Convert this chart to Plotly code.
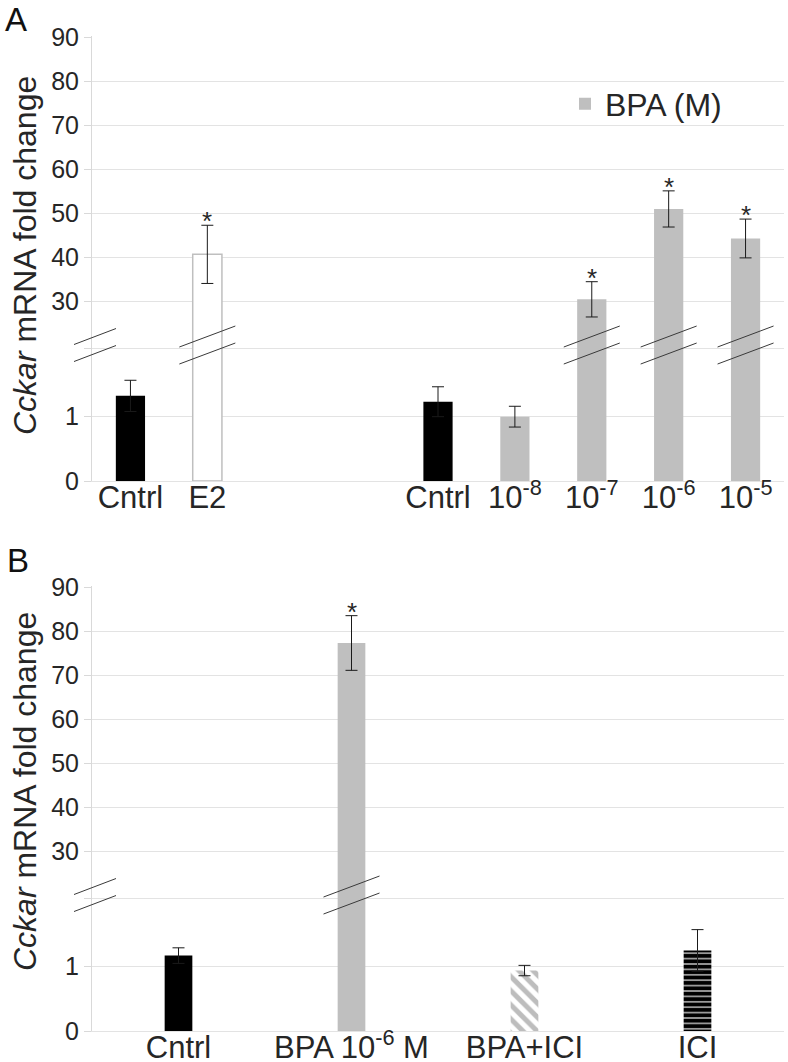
import plotly.graph_objects as go

# ---------------- data ----------------
A_categories = ["Cntrl", "E2", "Cntrl", "10<sup>-8</sup>", "10<sup>-7</sup>", "10<sup>-6</sup>", "10<sup>-5</sup>"]
A_values = [1.31, 40.7, 1.22, 0.99, 30.5, 51.0, 44.3]
A_errors = [0.24, 6.6, 0.23, 0.16, 4.0, 4.1, 4.4]
A_signif = [False, True, False, False, True, True, True]

B_categories = ["Cntrl", "BPA 10<sup>-6</sup> M", "BPA+ICI", "ICI"]
B_values = [1.16, 77.3, 0.93, 1.24]
B_errors = [0.12, 6.2, 0.08, 0.32]
B_signif = [False, True, False, False]

y_tick_values = [0, 1, None, 30, 40, 50, 60, 70, 80, 90]
y_tick_labels = ["0", "1", " ", "30", "40", "50", "60", "70", "80", "90"]

# ------------- broken-axis scale -------------
LOW_SLOPE = 65.0      # display units per fold-change unit below the break
UP_BASE = 179.5       # display position of 30
UP_SLOPE = 4.41       # display units per fold-change unit above the break
BREAK_D = 133.0       # display position of the break gridline
SLASH_D = 136.0       # display position of the break marks


def f(v):
    return LOW_SLOPE * v if v < 10 else UP_BASE + (v - 30) * UP_SLOPE


def tick_pos(v):
    return BREAK_D if v is None else f(v)


W, H = 788, 1062
FONT = "Liberation Sans, Arial, sans-serif"
TXT = "#262626"
GRID = "#e3e3e3"
GRAY = "#bfbfbf"

# layout positions (slots)
A_pos = [0, 1] + [4 + i for i in range(5)]
B_pos = list(range(len(B_categories)))

fig = go.Figure()


def add_bars(xs, vals, errs, idx, xaxis, yaxis, width, marker, name=None, showlegend=False):
    x = [xs[i] for i in idx]
    y = [f(vals[i]) for i in idx]
    up = [f(vals[i] + errs[i]) - f(vals[i]) for i in idx]
    dn = [f(vals[i]) - f(vals[i] - errs[i]) for i in idx]
    fig.add_trace(go.Bar(
        x=x, y=y, width=width, marker=marker, name=name, showlegend=showlegend,
        xaxis=xaxis, yaxis=yaxis, hoverinfo="skip",
        error_y=dict(type="data", array=up, arrayminus=dn, symmetric=False,
                     color="#1a1a1a", thickness=1, width=6),
    ))


# Panel A
add_bars(A_pos, A_values, A_errors, [0, 2], "x", "y", 0.38, dict(color="black", line=dict(width=0)))
add_bars(A_pos, A_values, A_errors, [1], "x", "y", 0.38, dict(color="white", line=dict(color=GRAY, width=1.5)))
add_bars(A_pos, A_values, A_errors, [3, 4, 5, 6], "x", "y", 0.38, dict(color=GRAY, line=dict(width=0)),
         name="BPA (M)", showlegend=True)

# Panel B
add_bars(B_pos, B_values, B_errors, [0], "x2", "y2", 0.16, dict(color="black", line=dict(width=0)))
add_bars(B_pos, B_values, B_errors, [1], "x2", "y2", 0.16, dict(color=GRAY, line=dict(width=0)))
add_bars(B_pos, B_values, B_errors, [2], "x2", "y2", 0.16,
         dict(color="white", line=dict(width=0),
              pattern=dict(shape="\\", fgcolor="#bdbdbd", bgcolor="white", fgopacity=1,
                           size=10, solidity=0.5)))
add_bars(B_pos, B_values, B_errors, [3], "x2", "y2", 0.16,
         dict(color="white", line=dict(width=0),
              pattern=dict(shape="-", fgcolor="black", bgcolor="white", fgopacity=1,
                           size=5.4, solidity=0.8)))

# significance stars
annotations = []
for xs, vals, errs, sig, xr, yr in [(A_pos, A_values, A_errors, A_signif, "x", "y"),
                                    (B_pos, B_values, B_errors, B_signif, "x2", "y2")]:
    for i, s in enumerate(sig):
        if s:
            annotations.append(dict(x=xs[i], y=f(vals[i] + errs[i]), xref=xr, yref=yr, text="*",
                                    showarrow=False, yanchor="bottom", yshift=-13,
                                    font=dict(family=FONT, size=26, color=TXT)))

# y-axis titles and panel letters
ytitle = "<i>Cckar</i> mRNA fold change"
for yc in [256, 792]:
    annotations.append(dict(x=25 / W, y=1 - yc / H, xref="paper", yref="paper", text=ytitle,
                            textangle=-90, showarrow=False, xanchor="center", yanchor="middle",
                            font=dict(family=FONT, size=32, color=TXT)))
for lab, (px, py) in [("A", (16, 20)), ("B", (18, 560))]:
    annotations.append(dict(x=px / W, y=1 - py / H, xref="paper", yref="paper", text=lab,
                            showarrow=False, xanchor="center", yanchor="middle",
                            font=dict(family=FONT, size=33, color="#111111")))

# axis-break slashes
shapes = []


def slash_pair(xref, xanchor, yref, half, rise, gap):
    for off in (gap, -gap):
        shapes.append(dict(type="line", xref=xref, yref=yref, xsizemode="pixel", xanchor=xanchor,
                           x0=-half, x1=half, y0=SLASH_D + off - rise, y1=SLASH_D + off + rise,
                           line=dict(color="#3a3a3a", width=1)))


slash_pair("paper", 95 / W, "y", 21, 8, 8.5)
slash_pair("paper", 95 / W, "y2", 21, 8, 8.5)
for i, v in enumerate(A_values):
    if v > 10:
        slash_pair("x", A_pos[i], "y", 28, 10.5, 8.5)
for i, v in enumerate(B_values):
    if v > 10:
        slash_pair("x2", B_pos[i], "y2", 28, 10.5, 8.5)

yr = [0, f(90) + 1]
ycommon = dict(range=yr, tickmode="array", tickvals=[tick_pos(v) for v in y_tick_values],
               ticktext=y_tick_labels, showgrid=True, gridcolor=GRID, gridwidth=1.2,
               zeroline=False, showline=True, linecolor="#d9d9d9", linewidth=1,
               ticks="outside", ticklen=7, tickcolor="#d9d9d9",
               tickfont=dict(family=FONT, size=25, color=TXT), automargin=False, fixedrange=True)
xcommon = dict(showgrid=False, zeroline=False, showline=True, linecolor=GRID, linewidth=1.2,
               ticks="", tickmode="array", tickfont=dict(family=FONT, size=31, color=TXT),
               ticklabelstandoff=-11, automargin=False, fixedrange=True)

fig.update_layout(
    width=W, height=H, autosize=False,
    margin=dict(l=0, r=0, t=0, b=0),
    paper_bgcolor="white", plot_bgcolor="white",
    barmode="overlay",
    xaxis=dict(xcommon, domain=[92 / W, 784 / W], range=[-0.5, 8.5], anchor="y",
               tickvals=A_pos, ticktext=A_categories),
    yaxis=dict(ycommon, domain=[1 - 481 / H, 1 - 36 / H], anchor="x"),
    xaxis2=dict(xcommon, domain=[92 / W, 784 / W], range=[-0.5, 3.5], anchor="y2",
                tickvals=B_pos, ticktext=B_categories),
    yaxis2=dict(ycommon, domain=[1 - 1031 / H, 1 - 586 / H], anchor="x2"),
    legend=dict(x=565 / W, y=1 - 104 / H, xanchor="left", yanchor="middle",
                font=dict(family=FONT, size=32, color=TXT), bgcolor="rgba(0,0,0,0)"),
    annotations=annotations,
    shapes=shapes,
)

fig.write_html("out.html", config={"displayModeBar": False},
               post_script="document.body.style.margin='0';document.body.style.overflow='hidden';")
